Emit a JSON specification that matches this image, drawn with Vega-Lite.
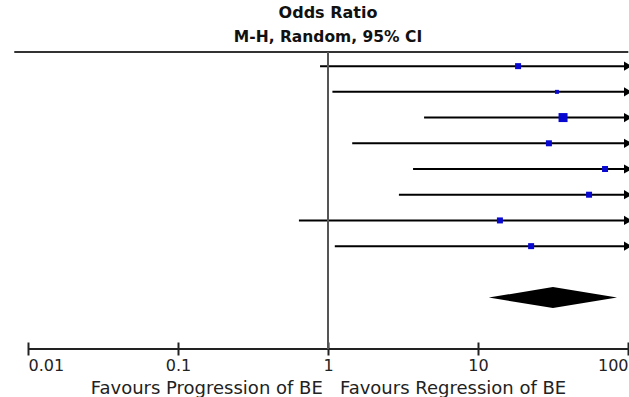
{
  "$schema": "https://vega.github.io/schema/vega-lite/v6.json",
  "width": 600,
  "height": 297,
  "autosize": {"type": "none"},
  "padding": {"left": 28, "top": 52, "right": 1, "bottom": 48},
  "background": "white",
  "config": {"view": {"stroke": null}},
  "title": {
    "text": "Odds Ratio",
    "subtitle": "M-H, Random, 95% CI",
    "anchor": "middle",
    "font": "DejaVu Sans",
    "fontSize": 16,
    "fontWeight": "bold",
    "color": "#111",
    "subtitleFont": "DejaVu Sans",
    "subtitleFontSize": 15.5,
    "subtitleFontWeight": "bold",
    "subtitleColor": "#111",
    "subtitlePadding": 9,
    "offset": 6
  },
  "datasets": {
    "studies": [
      {"study": 1, "lo": 0.885, "or": 18.5, "hi": 100, "weight": 11.5},
      {"study": 2, "lo": 1.07, "or": 33.6, "hi": 100, "weight": 5.1},
      {"study": 3, "lo": 4.37, "or": 36.9, "hi": 100, "weight": 25.9},
      {"study": 4, "lo": 1.45, "or": 29.7, "hi": 100, "weight": 11.5},
      {"study": 5, "lo": 3.69, "or": 70.3, "hi": 100, "weight": 11.5},
      {"study": 6, "lo": 2.97, "or": 55.0, "hi": 100, "weight": 11.5},
      {"study": 7, "lo": 0.64, "or": 14.0, "hi": 100, "weight": 11.5},
      {"study": 8, "lo": 1.11, "or": 22.6, "hi": 100, "weight": 11.5}
    ],
    "pooled": [
      {"x": 11.8, "top": 10, "bottom": 10},
      {"x": 31.6, "top": 9.59, "bottom": 10.41},
      {"x": 84.5, "top": 10, "bottom": 10}
    ],
    "frame": [
      {"part": "top", "x1": 0.0081, "x2": 100.5, "y1": 0.45, "y2": 0.45},
      {"part": "bottom", "x1": 0.01, "x2": 100, "y1": 12, "y2": 12},
      {"part": "null", "x1": 1, "x2": 1, "y1": 0.45, "y2": 12}
    ]
  },
  "layer": [
    {
      "data": {"name": "studies"},
      "mark": {"type": "rule", "color": "#000", "strokeWidth": 2},
      "encoding": {
        "x": {
          "field": "lo",
          "type": "quantitative",
          "scale": {"type": "log", "domain": [0.01, 100], "nice": false},
          "axis": {
            "values": [0.01, 0.1, 1, 10, 100],
            "format": "~g",
            "domain": false,
            "grid": false,
            "tickSize": 13,
            "tickWidth": 2,
            "tickColor": "#222",
            "offset": -7,
            "labelFlush": true,
            "labelFont": "DejaVu Sans",
            "labelFontSize": 16,
            "labelColor": "#222",
            "labelPadding": 2,
            "title": "Favours Progression of BE\u00a0\u00a0\u00a0Favours Regression of BE",
            "titleFont": "DejaVu Sans",
            "titleFontSize": 18,
            "titleFontWeight": "normal",
            "titleColor": "#222",
            "titlePadding": 6
          }
        },
        "x2": {"field": "hi"},
        "y": {
          "field": "study",
          "type": "quantitative",
          "scale": {"domain": [0.45, 12], "reverse": true, "nice": false, "zero": false},
          "axis": null
        }
      }
    },
    {
      "data": {"name": "studies"},
      "mark": {"type": "point", "shape": "triangle-right", "filled": true, "color": "#000", "opacity": 1, "size": 85},
      "encoding": {
        "x": {"field": "hi", "type": "quantitative"},
        "y": {"field": "study", "type": "quantitative"}
      }
    },
    {
      "data": {"name": "studies"},
      "mark": {"type": "square", "filled": true, "color": "#0808d0", "opacity": 1},
      "encoding": {
        "x": {"field": "or", "type": "quantitative"},
        "y": {"field": "study", "type": "quantitative"},
        "size": {"field": "weight", "type": "quantitative", "scale": {"domain": [0, 25.9], "range": [0, 81], "zero": true}, "legend": null}
      }
    },
    {
      "data": {"name": "pooled"},
      "mark": {"type": "area", "color": "#000", "opacity": 1, "orient": "vertical"},
      "encoding": {
        "x": {"field": "x", "type": "quantitative"},
        "y": {"field": "top", "type": "quantitative"},
        "y2": {"field": "bottom"}
      }
    },
    {
      "data": {"name": "frame"},
      "mark": {"type": "rule", "strokeWidth": 2},
      "encoding": {
        "x": {"field": "x1", "type": "quantitative"},
        "x2": {"field": "x2"},
        "y": {"field": "y1", "type": "quantitative"},
        "y2": {"field": "y2"},
        "color": {"field": "part", "type": "nominal", "scale": {"domain": ["top", "bottom", "null"], "range": ["#333", "#222", "#555"]}, "legend": null}
      }
    }
  ]
}
